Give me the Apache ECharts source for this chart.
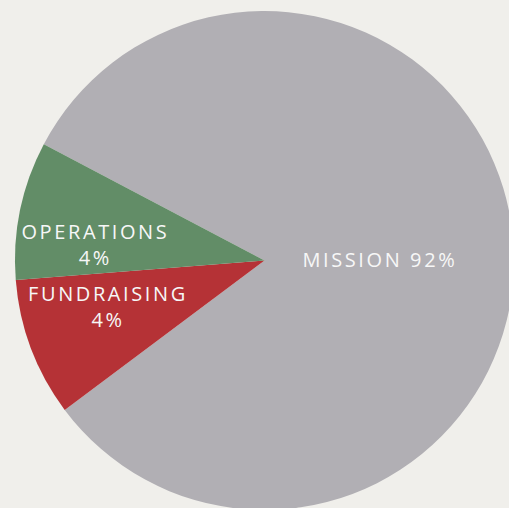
<!DOCTYPE html>
<html>
<head>
<meta charset="utf-8">
<script src="https://cdn.jsdelivr.net/npm/echarts@6/dist/echarts.min.js"></script>
<style>
  html, body { margin: 0; padding: 0; background: #f0efeb; }
  #chart { width: 509px; height: 508px; }
  /* wide tracking on the slice labels */
  #chart text { letter-spacing: 2.6px; }
</style>
</head>
<body>
<div id="chart"></div>
<script>
// slices, clockwise from the top edge of the green slice
const categories = ['MISSION', 'FUNDRAISING', 'OPERATIONS'];
const shares = [92, 4, 4];
const colors = ['#b1afb4', '#b53236', '#628d67'];

// label nudges for each slice (px)
const nudge = {
  MISSION: [-12, 9],
  FUNDRAISING: [-37, 1],
  OPERATIONS: [-44, 10]
};

const chart = echarts.init(document.getElementById('chart'), null, { renderer: 'svg' });

const option = {
  backgroundColor: '#f0efeb',
  animation: false,
  series: [
    {
      type: 'pie',
      center: [264.5, 260.5],
      radius: [0, 249.5],
      startAngle: 152.2,
      clockwise: true,
      minAngle: 32.3,
      avoidLabelOverlap: false,
      itemStyle: { borderWidth: 0 },
      label: {
        show: true,
        position: 'inside',
        color: '#f7f7f7',
        fontFamily: 'Open Sans',
        fontSize: 20,
        lineHeight: 26,
        align: 'center'
      },
      labelLine: { show: false },
      emphasis: { disabled: true },
      data: categories.map((c, i) => ({
        name: c,
        value: shares[i],
        itemStyle: { color: colors[i] },
        label: {
          offset: nudge[c],
          formatter: c === 'MISSION' ? '{b} {c}%' : '{b}\n{c}%'
        }
      }))
    }
  ]
};

chart.setOption(option);
</script>
</body>
</html>
